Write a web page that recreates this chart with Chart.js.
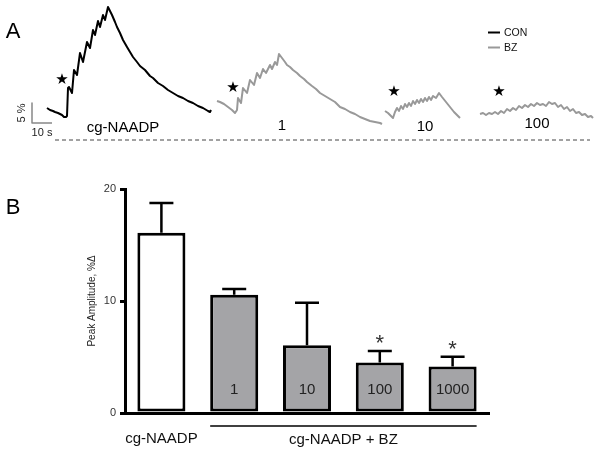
<!DOCTYPE html>
<html><head><meta charset="utf-8">
<script src="https://cdn.jsdelivr.net/npm/chart.js@4.4.1/dist/chart.umd.min.js"></script>
<style>
html,body{margin:0;padding:0;background:#fff;width:601px;height:456px;overflow:hidden;}
#a{position:absolute;left:0;top:0;}
#b{position:absolute;left:0;top:150px;}
</style></head><body>
<canvas id="a" width="601" height="150"></canvas>
<canvas id="b" width="601" height="306"></canvas>
<script>
// ---------- Panel A: traces (time in s, amplitude in %) ----------
const conT = [23.5,25,26.5,27.5,29,30,31,32,33,33.5,34,34.5,36,37,38.5,40,41.5,43.5,45,46.5,47.5,49,50,51.5,52.5,54,56,57.5,58.5,60,61.5,63.5,65,66.5,68.5,70,72.5,75,76.5,79,81.5,84,86.5,89,91.5,94,96.5,99,101.5,104,105,105.5];
const conV = [8,7.5,7.25,7,6.75,6.5,6.25,5.75,5.75,6,13,13.25,11.75,17.5,16.25,21.75,19.5,24.5,23,27.5,26.25,29.75,28.25,31.25,30,33.25,31.25,29.5,28.25,26.75,25,23.25,22,20.75,19.5,18.5,17.5,16,15.5,14.25,13.5,12.5,11.75,11,10.5,9.75,9.25,8.5,8,7.25,7,7.5];
const bz1T = [108.5,110,112,114,116,117.5,118.5,119,120.5,121.5,123.5,125,127,128.5,130,131.5,133,135,136,137.5,138.5,139.5,141,142.5,143.5,145,146.5,148.5,150,152,153.5,156,158,160,162.5,165,167.5,170,172.5,175,177.5,180,182.5,185,187.5,190,191];
const bz1V = [9.75,9.5,9,8.25,7.5,6.75,7.5,10.5,9.25,13,11.75,15,13.75,16.75,15.5,17.75,16.75,18.75,17.75,19.5,18.75,21.5,20.5,19.5,18.75,18.25,17.5,16.75,16,15.25,14.5,13.5,12.75,11.75,11,10.25,9.5,8.25,7.75,7,6.5,5.75,5.25,4.75,4.5,4.25,4];
const bz10T = [192.5,194,195.5,196.5,197.5,198.5,199.5,200.5,201.5,202.5,203.5,204.5,205.5,206.5,207.5,208.5,209.5,210.5,211.5,212.5,213.5,214.5,215.5,216.5,218,219.5,221,223,225,227,229,230];
const bz10V = [7.25,6.75,6,5.5,7,8,7.25,8.5,7.75,9,8.25,9.25,8.5,9.75,9,10,9.25,10.25,9.5,10.5,9.75,10.75,10,11,10.5,11.75,10.75,9.5,8.25,7,6,5.5];
const bz100T = [240,241.5,243,244.5,246,247.5,249,250.5,252,253.5,255,256.5,258,259.5,261,262.5,264,265.5,267,268.5,270,271.5,273,274.5,276,277.5,279,280.5,282,283.5,285,286.5,288,289.5,291,292.5,294,295.5,296.5];
const bz100V = [6.5,6.75,6.25,6.75,6.5,7,6.5,7.25,6.75,7.75,7.25,8,7.5,8.5,8,8.75,8.25,9,8.5,9.25,8.75,9,8.5,9.5,9,9.25,8.25,8.75,7.75,8.25,7.25,7.75,6.75,7,6.25,6.5,5.75,6,5.5];
const starT = [31,116.5,197,249.5];
const starV = [15,13,12,12];
const traceLabels = ['cg-NAADP','1','10','100'];
const traceLabelT = [61.5,141,212.5,268.5];
const traceLabelV = [3.0,3.5,3.25,4.0];
const baselineT = [27.5,295];
const scaleBarT = [16,16,26];   // 10 s
const scaleBarV = [9.25,4.25,4.25]; // 5 %

// ---------- Panel B: bars ----------
const groups = ['cg-NAADP','1','10','100','1000'];
const peakAmp = [16.1,10.55,6.05,4.5,4.15];
const semUp = [2.65,0.52,3.8,1.04,0.88];
const signif = [false,false,false,true,true];
const yTicks = [0,10,20];

const FONT = "'Liberation Sans', Arial, sans-serif";
const zip = (t,v) => t.map((x,i)=>({x:x,y:v[i]}));

const textA = {
  id:'textA',
  afterDraw(c){
    const ctx=c.ctx, xs=c.scales.x, ys=c.scales.y;
    ctx.save();
    ctx.fillStyle='#000';
    ctx.textAlign='center'; ctx.textBaseline='middle';
    ctx.font='22px '+FONT;
    ctx.fillText('A',13,32);
    ctx.font='15px '+FONT;
    traceLabels.forEach((l,i)=>ctx.fillText(l,xs.getPixelForValue(traceLabelT[i]),ys.getPixelForValue(traceLabelV[i])));
    ctx.font='15px "DejaVu Sans", sans-serif';
    starT.forEach((t,i)=>ctx.fillText('\u2605',xs.getPixelForValue(t),ys.getPixelForValue(starV[i])));
    ctx.font='11px '+FONT;
    ctx.fillStyle='#222';
    ctx.fillText('10 s',xs.getPixelForValue(21),ys.getPixelForValue(1.75));
    ctx.save();
    ctx.translate(xs.getPixelForValue(11),ys.getPixelForValue(6.75));
    ctx.rotate(-Math.PI/2);
    ctx.fillText('5 %',0,0);
    ctx.restore();
    // legend
    ctx.lineWidth=2;
    ctx.strokeStyle='#000';
    ctx.beginPath();ctx.moveTo(488,32.5);ctx.lineTo(500,32.5);ctx.stroke();
    ctx.strokeStyle='#999';
    ctx.beginPath();ctx.moveTo(488,47.5);ctx.lineTo(500,47.5);ctx.stroke();
    ctx.font='10.5px '+FONT;
    ctx.fillStyle='#111';
    ctx.textAlign='left';
    ctx.fillText('CON',504,33);
    ctx.fillText('BZ',504,48);
    ctx.restore();
  }
};

new Chart(document.getElementById('a'),{
  type:'scatter',
  data:{datasets:[
    {data:zip(conT,conV),borderColor:'#000',borderWidth:2},
    {data:zip(bz1T,bz1V),borderColor:'#999',borderWidth:2},
    {data:zip(bz10T,bz10V),borderColor:'#999',borderWidth:2},
    {data:zip(bz100T,bz100V),borderColor:'#999',borderWidth:2},
    {data:zip(baselineT,[0,0]),borderColor:'#444',borderWidth:1,borderDash:[4,3]},
    {data:zip(scaleBarT,scaleBarV),borderColor:'#888',borderWidth:1.5}
  ].map(d=>Object.assign(d,{showLine:true,pointRadius:0,tension:0,fill:false,borderJoinStyle:'round'}))},
  options:{
    responsive:false,animation:false,
    layout:{padding:0},
    plugins:{legend:{display:false},tooltip:{enabled:false}},
    scales:{
      x:{type:'linear',min:0,max:300.5,display:false},
      y:{type:'linear',min:-2.5,max:35,display:false}
    }
  },
  plugins:[textA]
});

const extrasB = {
  id:'extrasB',
  afterDatasetsDraw(c){
    const ctx=c.ctx, ys=c.scales.y, meta=c.getDatasetMeta(0);
    ctx.save();
    ctx.strokeStyle='#000'; ctx.fillStyle='#000';
    ctx.lineWidth=2.5;
    meta.data.forEach((bar,i)=>{
      const x=bar.x, y0=ys.getPixelForValue(peakAmp[i]), y1=ys.getPixelForValue(peakAmp[i]+semUp[i]);
      ctx.strokeStyle='#000';
      ctx.lineWidth=2.5;
      ctx.beginPath();
      ctx.moveTo(x,y0);ctx.lineTo(x,y1);
      ctx.moveTo(x-12,y1);ctx.lineTo(x+12,y1);
      ctx.stroke();
      if(signif[i]){
        ctx.font='22px '+FONT;
        ctx.textAlign='center';ctx.textBaseline='alphabetic';
        ctx.fillStyle='#333';
        ctx.fillText('*',x,y1-1);
      }
      if(i>0){
        ctx.font='15px '+FONT;
        ctx.fillStyle='#222';
        ctx.textAlign='center';ctx.textBaseline='middle';
        ctx.fillText(groups[i],x,ys.getPixelForValue(2.05));
      }
    });
    // group line and labels
    const b1=meta.data[1], b4=meta.data[4];
    const left=b1.x-b1.width/2, right=b4.x+b4.width/2;
    const lineY=ys.getPixelForValue(0)+13;
    ctx.lineWidth=1.5;
    ctx.beginPath();ctx.moveTo(left,lineY);ctx.lineTo(right,lineY);ctx.stroke();
    ctx.font='15px '+FONT;
    ctx.fillStyle='#111';
    ctx.textAlign='center';ctx.textBaseline='middle';
    ctx.fillText('cg-NAADP',meta.data[0].x,lineY+13);
    ctx.fillText('cg-NAADP + BZ',(left+right)/2,lineY+14);
    // y title
    ctx.save();
    ctx.translate(92,(ys.top+ys.bottom)/2);
    ctx.rotate(-Math.PI/2);
    ctx.font='10px '+FONT;
    ctx.fillStyle='#222';
    ctx.fillText('Peak Amplitude, %\u0394',0,0);
    ctx.restore();
    ctx.font='22px '+FONT;
    ctx.fillStyle='#000';
    ctx.fillText('B',13,58);
    ctx.restore();
  }
};

new Chart(document.getElementById('b'),{
  type:'bar',
  data:{labels:groups,datasets:[{
    data:peakAmp,
    backgroundColor:groups.map((g,i)=>i===0?'#ffffff':'#a4a4a7'),
    borderColor:'#000',borderWidth:3,borderSkipped:false,
    barPercentage:0.66,categoryPercentage:1
  }]},
  options:{
    responsive:false,animation:false,
    layout:{padding:{left:0,right:112,top:39,bottom:43}},
    plugins:{legend:{display:false},tooltip:{enabled:false}},
    scales:{
      x:{
        grid:{display:false},
        ticks:{display:false},
        border:{display:true,color:'#000',width:3},
        afterFit(s){s.height=0;}
      },
      y:{
        min:0,max:20,
        afterBuildTicks(s){s.ticks=yTicks.map(v=>({value:v}));},
        ticks:{color:'#333',font:{family:FONT,size:11},padding:4},
        grid:{drawOnChartArea:false,drawTicks:true,tickLength:5,color:'#000',lineWidth:3},
        border:{display:true,color:'#000',width:3},
        afterFit(s){s.width=125;}
      }
    }
  },
  plugins:[extrasB]
});
</script>
</body></html>
